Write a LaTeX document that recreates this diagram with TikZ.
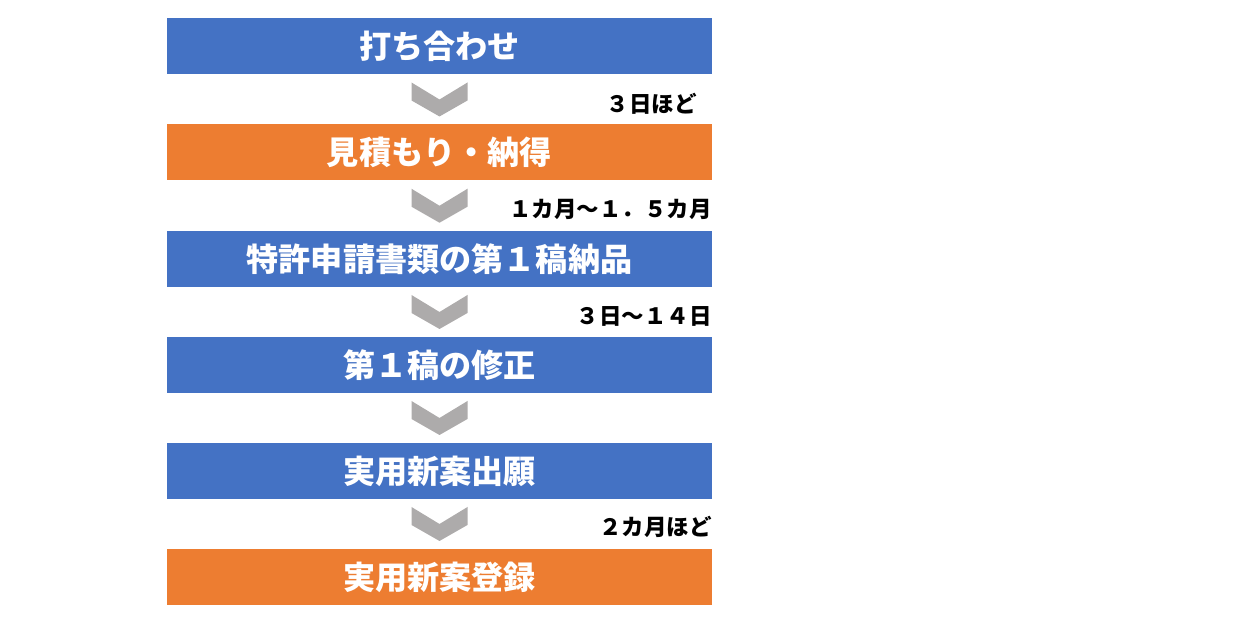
\documentclass[tikz,border=0pt]{standalone}
\usepackage{fontspec}
\setmainfont{Noto Sans CJK JP}
\usetikzlibrary{calc}
\definecolor{stepblue}{HTML}{4472C4}
\definecolor{steporange}{HTML}{ED7D31}
\definecolor{chevgray}{HTML}{ADABAB}
\tikzset{
  stepbox/.style={rectangle,minimum width=10.9cm,minimum height=1.12cm,inner sep=0pt,text=white,font=\bfseries\fontsize{18.3}{22}\selectfont},
  periodlabel/.style={anchor=east,inner sep=0pt,font=\bfseries\fontsize{12.8}{16}\selectfont}
}
\begin{document}
\begin{tikzpicture}[x=1cm,y=1cm]
\useasboundingbox (0,0) rectangle (25.02,12.54);

\node (b1) at (8.79,11.61) [stepbox,fill=stepblue] {打ち合わせ};
\node (b2) at (8.79,9.49) [stepbox,fill=steporange] {見積もり・納得};
\node (b3) at (8.79,7.36) [stepbox,fill=stepblue] {特許申請書類の第１稿納品};
\node (b4) at (8.79,5.24) [stepbox,fill=stepblue] {第１稿の修正};
\node (b5) at (8.79,3.12) [stepbox,fill=stepblue] {実用新案出願};
\node (b6) at (8.79,1.00) [stepbox,fill=steporange] {実用新案登録};

\foreach \a/\b in {b1/b2,b2/b3,b3/b4,b4/b5,b5/b6}
  \fill [chevgray] ($(\a.south)!0.5!(\b.north)$) ++(-0.56,0.34) -- ++(0.56,-0.34) -- ++(0.56,0.34)
    -- ++(0,-0.36) -- ++(-0.56,-0.32) -- ++(-0.56,0.32) -- cycle;

\node (t1) at (13.94,10.46) [periodlabel] {３日ほど};
\node (t2) at (14.24,8.36) [periodlabel] {１カ月～１．５カ月};
\node (t3) at (14.24,6.22) [periodlabel] {３日～１４日};
\node (t5) at (14.24,2.00) [periodlabel] {２カ月ほど};

\end{tikzpicture}
\end{document}
